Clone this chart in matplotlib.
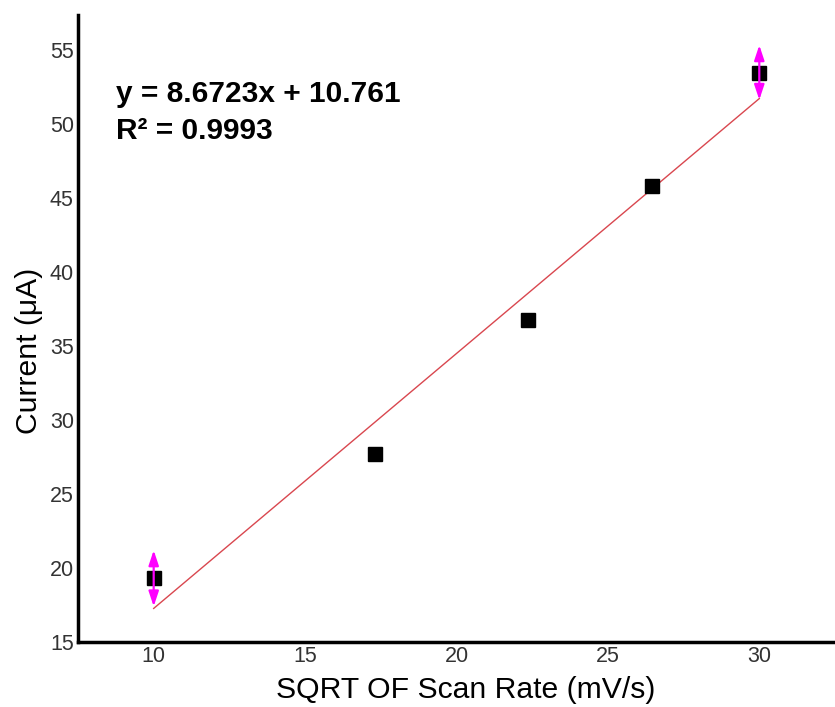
import numpy as np
import matplotlib.pyplot as plt

plt.rcParams["font.family"] = ["Liberation Sans", "DejaVu Sans"]

# sqrt of scan rate and peak current
sqrt_scan = [10.0, 17.32, 22.36, 26.46, 30.0]
current = [19.3, 27.7, 36.8, 45.8, 53.5]
current_err = [1.9, 0.0, 0.0, 0.0, 1.85]
xticks = [10, 15, 20, 25, 30]
yticks = [15, 20, 25, 30, 35, 40, 45, 50, 55]

fig = plt.figure(figsize=(8.35, 7.07), dpi=100)
ax = fig.add_axes([0.0934, 0.092, 0.9066, 0.887])

# Linear fit
slope, intercept = np.polyfit(sqrt_scan, current, 1)
xs = np.array([sqrt_scan[0], sqrt_scan[-1]])
ax.plot(xs, slope * xs + intercept, color="#d9474f", linewidth=1.0, zorder=2)

# Error bars with arrow heads (only first and last points)
for x, y, e in zip(sqrt_scan, current, current_err):
    if e > 0:
        ax.annotate(
            "",
            xy=(x, y + e),
            xytext=(x, y - e),
            arrowprops=dict(arrowstyle="<|-|>,head_length=0.9,head_width=0.3",
                            color="#ff00ff", lw=1.6, shrinkA=0, shrinkB=0),
            zorder=4,
        )

ax.plot(sqrt_scan, current, linestyle="none", marker="s", markersize=9.5,
        color="black", zorder=3)

ax.text(0.05, 0.874, "y = 8.6723x + 10.761", transform=ax.transAxes,
        fontsize=21.5, fontweight="bold", va="center")
ax.text(0.05, 0.814, "R² = 0.9993", transform=ax.transAxes,
        fontsize=21.5, fontweight="bold", va="center")

ax.set_xlim(7.5, 32.5)
ax.set_ylim(15, 57.4)
ax.set_xticks(xticks)
ax.set_yticks(yticks)
ax.tick_params(length=0, labelsize=15.5, labelcolor="#333333", pad=3)

for side in ["top", "right"]:
    ax.spines[side].set_visible(False)
for side in ["left", "bottom"]:
    ax.spines[side].set_linewidth(2.5)

ax.set_xlabel("SQRT OF Scan Rate (mV/s)", fontsize=21.7)
ax.set_ylabel("Current (\u03bcA)", fontsize=21.7)
ax.xaxis.set_label_coords(0.5125, -0.055)
ax.yaxis.set_label_coords(-0.046, 0.464)

fig.savefig("out.png", dpi=100)
